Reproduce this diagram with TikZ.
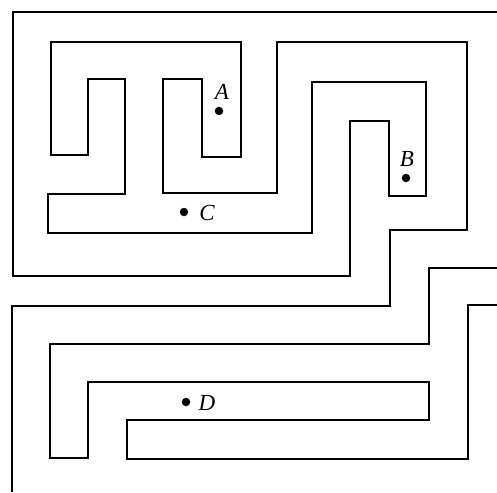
\documentclass[tikz,border=0pt]{standalone}
\usepackage{fontspec}
\setmainfont{Liberation Serif}
\begin{document}
\begin{tikzpicture}[x=1pt,y=-1pt,
    wall/.style={line width=2pt, line join=miter},
    pt/.style={circle, fill=black, inner sep=0pt, minimum size=8.5pt},
    lbl/.style={inner sep=0pt, font=\fontsize{23}{23}\selectfont\itshape}]
        \useasboundingbox (0,0) rectangle (497,492);

        % Upper maze wall
        \draw[wall] (497,12) -- (13,12) -- (13,276) -- (350,276) -- (350,121) -- (389,121)
            -- (389,196) -- (426,196) -- (426,82) -- (312,82) -- (312,233) -- (48,233)
            -- (48,194) -- (125,194) -- (125,79) -- (88,79) -- (88,155) -- (51,155)
            -- (51,42) -- (241,42) -- (241,157) -- (202,157) -- (202,79) -- (163,79)
            -- (163,193) -- (277,193) -- (277,42) -- (467,42) -- (467,230) -- (390,230)
            -- (390,306) -- (12,306) -- (12,492);

        % Lower maze wall
        \draw[wall] (497,268) -- (429,268) -- (429,344) -- (50,344) -- (50,458) -- (88,458)
            -- (88,382) -- (429,382) -- (429,420) -- (127,420) -- (127,459) -- (468,459)
            -- (468,305) -- (497,305);

        % Points
        \node[pt] (a) at (219,111) {};
        \node[lbl] (labA) at (222,92) {A};
        \node[pt] (b) at (406,178) {};
        \node[lbl] (labB) at (407,159) {B};
        \node[pt] (c) at (184,212) {};
        \node[lbl] (labC) at (207,213) {C};
        \node[pt] (d) at (186,402) {};
        \node[lbl] (labD) at (207,403) {D};
\end{tikzpicture}
\end{document}
